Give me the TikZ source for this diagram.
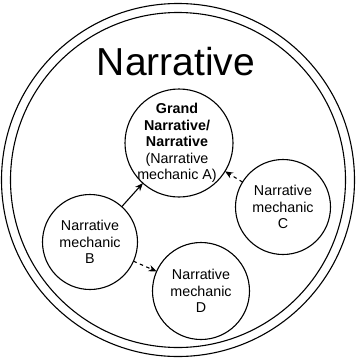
\documentclass[tikz,border=0pt]{standalone}
\usepackage{fontspec}
\setmainfont{Liberation Sans}
\usetikzlibrary{arrows.meta}
\begin{document}
\begin{tikzpicture}[x=1pt,y=-1pt,
  every node/.style={inner sep=0pt, outer sep=0pt},
  mech/.style={circle, draw, line width=1.1pt, align=center,
    font=\fontsize{14.3}{16.5}\selectfont},
  link/.style={line width=1.1pt, -{Stealth[length=8pt,width=6.5pt]}},
  dashline/.style={dash pattern=on 3.5pt off 3.5pt}]
\useasboundingbox (0,0) rectangle (357,359);
\node[circle, draw, line width=1.1pt, minimum size=353pt] (outer) at (178,180) {};
\node[circle, draw, line width=1.1pt, minimum size=335pt] (inner) at (178,180) {};
\node[anchor=base, font=\fontsize{39}{39}\selectfont] (title) at (176,75) {Narrative};
\node[mech, minimum size=108pt] (A) at (179,143) {};
\node[align=center, font=\fontsize{14.3}{16.5}\selectfont] (At) at (177,143)
  {\textbf{Grand}\\\textbf{Narrative/}\\\textbf{Narrative}\\(Narrative\\mechanic A)};
\node[mech, minimum size=95pt] (B) at (90,242) {Narrative\\mechanic\\B};
\node[mech, minimum size=95pt] (C) at (283,207) {Narrative\\mechanic\\C};
\node[mech, minimum size=97pt] (D) at (201,291) {Narrative\\mechanic\\D};
\draw[link] (B) -- (A);
\draw[link, dashline] (B) -- (D);
\draw[link, dashline] (C) -- (A);
\end{tikzpicture}
\end{document}
